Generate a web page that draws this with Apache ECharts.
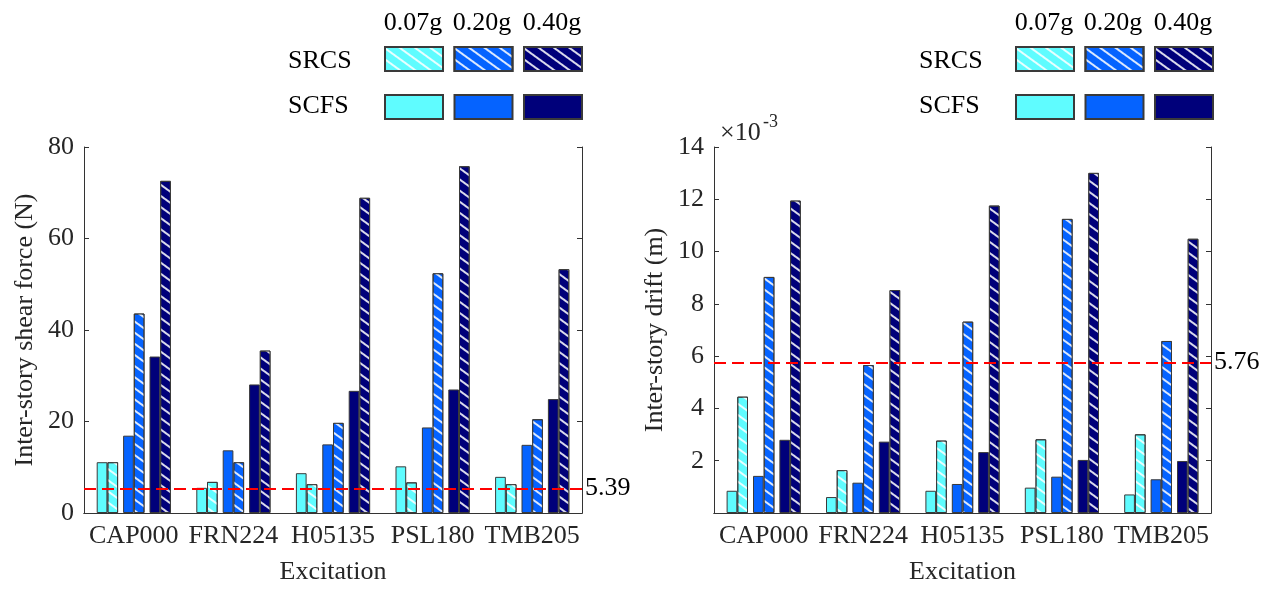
<!DOCTYPE html>
<html>
<head>
<meta charset="utf-8">
<script src="https://cdn.jsdelivr.net/npm/echarts@6/dist/echarts.min.js"></script>
<style>
  html, body { margin: 0; padding: 0; background: #fff; }
  #chart { width: 1272px; height: 590px; }
</style>
</head>
<body>
<div id="chart"></div>
<script>
// categories (excitations)
const categories = ["CAP000", "FRN224", "H05135", "PSL180", "TMB205"];
const levels = ["0.07g", "0.20g", "0.40g"];

// inter-story shear force (N)
const shearScfs007 = [11.1, 5.5, 8.7, 10.2, 7.9];
const shearSrcs007 = [11.1, 6.8, 6.3, 6.7, 6.3];
const shearScfs020 = [16.9, 13.7, 15.0, 18.7, 14.9];
const shearSrcs020 = [43.6, 11.1, 19.7, 52.4, 20.5];
const shearScfs040 = [34.2, 28.1, 26.7, 27.0, 24.9];
const shearSrcs040 = [72.6, 35.5, 68.9, 75.8, 53.3];
const shearLimit = 5.39;
const shearTicks = [0, 20, 40, 60, 80];

// inter-story drift (x 10^-3 m)
const driftScfs007 = [0.85, 0.61, 0.85, 0.97, 0.71];
const driftSrcs007 = [4.45, 1.64, 2.77, 2.82, 3.01];
const driftScfs020 = [1.42, 1.16, 1.11, 1.39, 1.29];
const driftSrcs020 = [9.03, 5.66, 7.32, 11.25, 6.58];
const driftScfs040 = [2.80, 2.73, 2.33, 2.03, 1.99];
const driftSrcs040 = [11.95, 8.53, 11.76, 13.01, 10.49];
const driftLimit = 5.76;
const driftTicks = [0, 2, 4, 6, 8, 10, 12, 14];

const colors = ["#5ffcff", "#0563ff", "#00007a"];
const FONT = "Liberation Serif";
const AXIS = "#333333";
const TXT = "#262626";

// white "\" hatching for the SRCS bars
const hatch = {
    symbol: "rect",
    symbolSize: 1,
    dashArrayX: [1, 0],
    dashArrayY: [1.6, 7],
    rotation: Math.PI / 5,
    color: "rgba(255,255,255,0.85)",
};

function barSeries(idx, scfs, srcs, limit) {
    const out = [];
    for (let i = 0; i < 3; i++) {
        out.push({
            name: "SCFS " + levels[i],
            type: "bar",
            xAxisIndex: idx * 2,
            yAxisIndex: idx * 2,
            barWidth: 10.7,
            barGap: "0%",
            data: scfs[i],
            itemStyle: { color: colors[i], borderColor: "#3a3a3a", borderWidth: 1 },
        });
        out.push({
            name: "SRCS " + levels[i],
            type: "bar",
            xAxisIndex: idx * 2,
            yAxisIndex: idx * 2,
            barWidth: 10.7,
            barGap: "0%",
            data: srcs[i],
            itemStyle: { color: colors[i], borderColor: "#3a3a3a", borderWidth: 1, decal: hatch },
        });
        if (i < 2) {
            // blank slot between the pairs
            out.push({
                name: "gap",
                type: "bar",
                xAxisIndex: idx * 2,
                yAxisIndex: idx * 2,
                barWidth: 5,
                barGap: "0%",
                silent: true,
                data: [null, null, null, null, null],
            });
        }
    }
    out[0].markLine = {
        silent: true,
        symbol: "none",
        lineStyle: { color: "#ff0000", type: [12, 6], width: 2 },
        label: { position: "end", formatter: String(limit), fontFamily: FONT, fontSize: 26, color: "#000", distance: 3 },
        data: [{ yAxis: limit }],
    };
    return out;
}

function xAxes(grid) {
    return [
        {
            type: "category", gridIndex: grid, data: categories, position: "bottom",
            axisLine: { lineStyle: { color: AXIS } },
            axisTick: { show: false },
            axisLabel: { fontFamily: FONT, fontSize: 26, color: TXT, margin: 10, interval: 0 },
            name: "Excitation", nameLocation: "middle", nameGap: 46,
            nameTextStyle: { fontFamily: FONT, fontSize: 26, color: TXT },
        },
        {
            type: "category", gridIndex: grid, data: categories, position: "top",
            axisLine: { lineStyle: { color: AXIS } },
            axisTick: { inside: true, alignWithLabel: true, length: 5, lineStyle: { color: AXIS } },
            axisLabel: { show: false },
        },
    ];
}

function yAxes(grid, ticks, name, gap, hideZero) {
    const base = {
        type: "value", gridIndex: grid,
        min: ticks[0], max: ticks[ticks.length - 1], interval: ticks[1] - ticks[0],
        splitLine: { show: false },
        axisLine: { show: true, lineStyle: { color: AXIS } },
        axisTick: { show: true, inside: true, length: 5, lineStyle: { color: AXIS } },
    };
    return [
        Object.assign({}, base, {
            position: "left",
            axisLabel: {
                fontFamily: FONT, fontSize: 26, color: TXT, margin: 10,
                formatter: (v) => (hideZero && v === 0 ? "" : String(v)),
            },
            name: name, nameLocation: "middle", nameGap: gap,
            nameTextStyle: { fontFamily: FONT, fontSize: 26, color: TXT },
        }),
        Object.assign({}, base, { position: "right", axisLabel: { show: false } }),
    ];
}

function legends(left) {
    const common = {
        orient: "horizontal", left: left, icon: "rect", padding: 0,
        itemWidth: 58, itemHeight: 24, itemGap: 9.5,
        formatter: () => "", textStyle: { fontSize: 1 },
        selectedMode: false,
    };
    return [
        Object.assign({}, common, { top: 46, data: levels.map((l) => "SRCS " + l) }),
        Object.assign({}, common, { top: 94, data: levels.map((l) => "SCFS " + l) }),
    ];
}

function legendText(x0) {
    const t = (text, x, y, align) => ({
        type: "text", x: x, y: y,
        style: { text: text, fontFamily: FONT, fontSize: 26, fill: "#000", align: align, verticalAlign: "middle" },
    });
    return [
        t("SRCS", x0 - 96, 61, "left"),
        t("SCFS", x0 - 96, 106, "left"),
        t(levels[0], x0 + 29, 23, "center"),
        t(levels[1], x0 + 98, 23, "center"),
        t(levels[2], x0 + 168, 23, "center"),
    ];
}

const chart = echarts.init(document.getElementById("chart"));
chart.setOption({
    animation: false,
    grid: [
        { left: 84, top: 147, width: 498, height: 366 },
        { left: 714, top: 147, width: 497, height: 366 },
    ],
    legend: legends(384).concat(legends(1015)),
    xAxis: xAxes(0).concat(xAxes(1)),
    yAxis: yAxes(0, shearTicks, "Inter-story shear force (N)", 46, false)
        .concat(yAxes(1, driftTicks, "Inter-story drift (m)", 46, true)),
    series: barSeries(0, [shearScfs007, shearScfs020, shearScfs040], [shearSrcs007, shearSrcs020, shearSrcs040], shearLimit)
        .concat(barSeries(1, [driftScfs007, driftScfs020, driftScfs040], [driftSrcs007, driftSrcs020, driftSrcs040], driftLimit)),
    graphic: legendText(384).concat(legendText(1015)).concat([
        { type: "text", x: 720, y: 133, style: { text: "×10", fontFamily: FONT, fontSize: 26, fill: TXT, verticalAlign: "middle" } },
        { type: "text", x: 763, y: 122, style: { text: "-3", fontFamily: FONT, fontSize: 18, fill: TXT, verticalAlign: "middle" } },
    ]),
});
window.addEventListener("resize", () => chart.resize());
</script>
</body>
</html>
